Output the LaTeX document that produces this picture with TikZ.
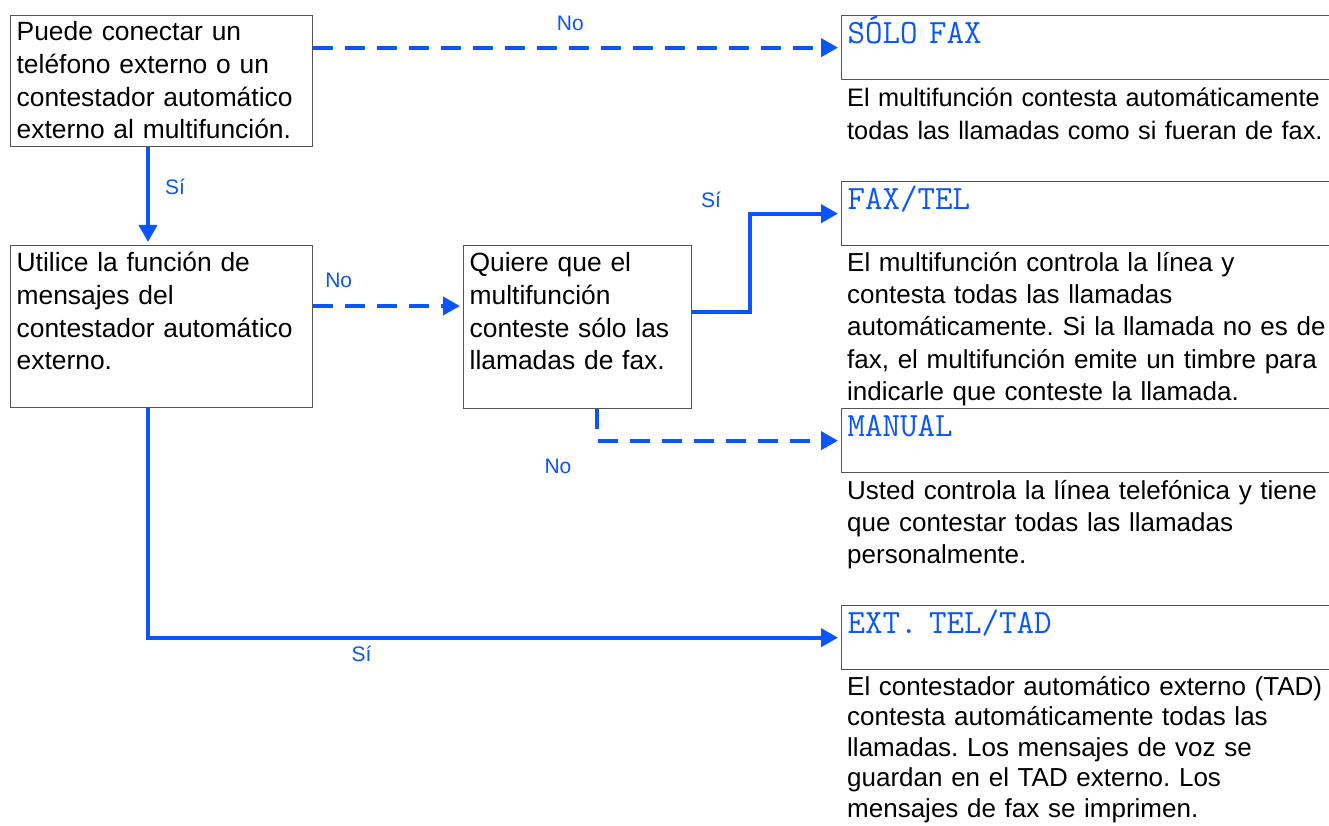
\documentclass[tikz,border=0pt]{standalone}
\usepackage{fontspec}
\setmainfont{Liberation Sans}
\usepackage{xcolor}
\usepackage{tikz}
\usetikzlibrary{arrows.meta, positioning}

\definecolor{flowblue}{RGB}{10,85,255}
\definecolor{boxgray}{RGB}{85,85,85}
\frenchspacing

\begin{document}
\begin{tikzpicture}[x=1pt, y=-1pt,
    qbox/.style={draw=boxgray, line width=1.3pt, anchor=north west, align=left,
                 inner xsep=6pt, inner ysep=0pt, font=\fontsize{26.4}{32.7}\selectfont},
    mode/.style={draw=boxgray, line width=1.3pt, anchor=north west, align=left,
                 inner xsep=6pt, inner ysep=0pt, text width=490pt, text height=28pt, text depth=36pt,
                 text=flowblue, font=\ttfamily\fontsize{34}{36}\selectfont},
    note/.style={anchor=base west, align=left, inner sep=0pt, text width=530pt,
                 font=\fontsize{26}{32.4}\selectfont},
    flow/.style={draw=flowblue, line width=4pt, -{Triangle[length=17pt, width=18pt]}, shorten >=3pt},
    dashflow/.style={flow, dash pattern=on 20pt off 12pt},
    lbl/.style={text=flowblue, inner sep=0pt, font=\fontsize{21}{21}\selectfont}]
    \useasboundingbox (0,0) rectangle (1329,826);

    % question boxes
    \node[qbox, text width=290pt, text height=25pt, text depth=105.7pt] (q1) at (10,15)
        {Puede conectar un\\ teléfono externo o un\\ contestador automático\\ externo al multifunción.};
    \node[qbox, text width=290pt, text height=26pt, text depth=136pt] (q2) at (10,245)
        {Utilice la función de\\ mensajes del\\ contestador automático\\ externo.};
    \node[qbox, text width=216pt, text height=26pt, text depth=137pt] (q3) at (463,245)
        {Quiere que el\\ multifunción\\ conteste sólo las\\ llamadas de fax.};

    % receive modes
    \node[mode] (sfax)   at (841,15)  {SÓLO FAX};
    \node[mode] (faxtel) at (841,181) {FAX/TEL};
    \node[mode] (manual) at (841,408) {MANUAL};
    \node[mode] (ext)    at (841,605) {EXT. TEL/TAD};

    \node[note, font=\fontsize{25.3}{32.4}\selectfont] (sfaxnote) at (847,107) {El multifunción contesta automáticamente\\ todas las llamadas como si fueran de fax.};
    \node[note] (faxtelnote) at (847,271) {El multifunción controla la línea y\\ contesta todas las llamadas\\ automáticamente. Si la llamada no es de\\ fax, el multifunción emite un timbre para\\ indicarle que conteste la llamada.};
    \node[note] (manualnote) at (847,499) {Usted controla la línea telefónica y tiene\\ que contestar todas las llamadas\\ personalmente.};
    \node[note, font=\fontsize{26}{30.5}\selectfont] (extnote) at (847,695) {El contestador automático externo (TAD)\\ contesta automáticamente todas las\\ llamadas. Los mensajes de voz se\\ guardan en el TAD externo. Los\\ mensajes de fax se imprimen.};

    % connectors
    \draw[dashflow] (q1.east |- sfax.west) -- node[lbl, pos=0.487, yshift=24pt] {No} (sfax.west);
    \draw[flow] ([xshift=138pt]q1.south west) -- node[lbl, pos=0.41, xshift=27pt] {Sí} ([xshift=138pt]q2.north west);
    \draw[dashflow] ([yshift=-61pt]q2.north east) -- node[lbl, pos=0.17, yshift=26pt] {No} ([yshift=-61pt]q3.north west);
    \draw[flow] ([yshift=-67pt]q3.north east) -| node[lbl, pos=1, xshift=-39pt, yshift=14pt] {Sí} ([xshift=-91pt]faxtel.west) -- (faxtel.west);
    \draw[dashflow] ([xshift=134pt]q3.south west) |- node[lbl, pos=0.5, xshift=-39pt, yshift=-26pt] {No} (manual.west);
    \draw[flow] ([xshift=138pt]q2.south west) |- node[lbl, pos=0.654, yshift=-16pt] {Sí} (ext.west);
\end{tikzpicture}
\end{document}
